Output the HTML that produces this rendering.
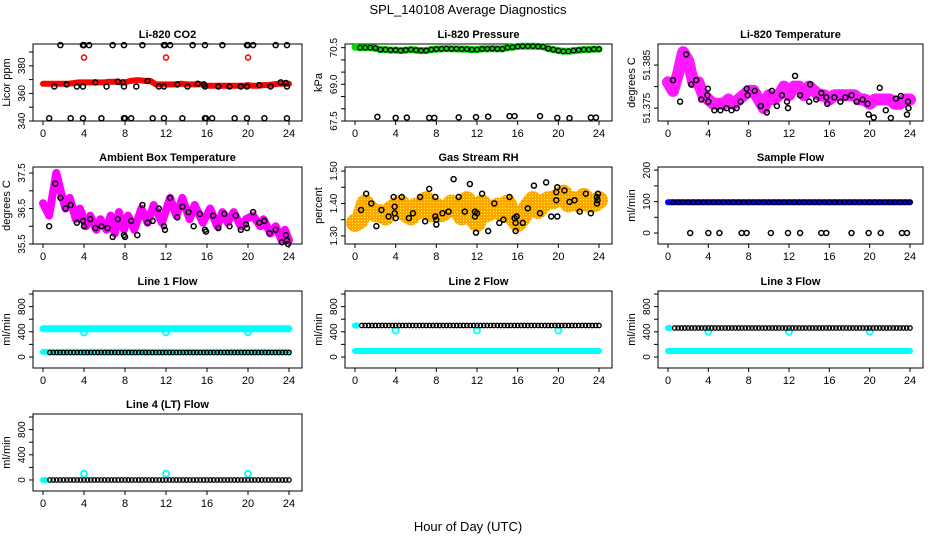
<!DOCTYPE html>
<html><head><meta charset="utf-8"><title>SPL_140108 Average Diagnostics</title>
<style>
html,body{margin:0;padding:0;background:#fff;}
svg{display:block;font-family:"Liberation Sans",sans-serif;}
</style></head>
<body>
<svg id="chart" width="936" height="540" viewBox="0 0 936 540" xmlns="http://www.w3.org/2000/svg">
<defs>
<pattern id="rhpat" width="3" height="3" patternUnits="userSpaceOnUse">
<rect width="3" height="3" fill="#ffa500"/><rect x="1" y="1" width="1" height="1" fill="#ffff00"/>
</pattern>
</defs>
<text x="468" y="14" text-anchor="middle" font-size="13">SPL_140108  Average Diagnostics</text>
<text x="468" y="531" text-anchor="middle" font-size="13">Hour of Day (UTC)</text>
</svg>
<script>
// ---------- data ----------
const xTicks = [0,4,8,12,16,20,24];

const co2Level = [367,367,367,367,367,367,367.5,368,368,368,368,368,368,368.5,368.5,368,368,369,369.5,369.5,369,369,366.5,366.5,366.5,366.5,366.5,367,366.5,366.5,366.5,366.5,365.5,365.5,365.5,365.5,365.5,365.5,365.5,365.5,366,365.5,365.5,366,366,366.5,367,367,367];
const co2RedOutHours = [4,12,20];
const co2RedOutVals = [386,386,386];
const co2BlackHours = [1.7,3.9,4.0,4.5,6.8,7.9,9.7,11.8,11.9,12.4,14.6,15.8,17.5,19.9,20.0,20.5,22.7,23.8,0.6,2.7,3.9,5.7,7.9,8.0,8.6,10.7,11.8,13.6,15.8,15.9,16.5,18.7,19.9,21.6,23.8,1.1,2.3,3.3,3.9,5.1,6.2,7.3,7.8,7.9,9.1,10.2,11.3,11.8,13.1,14.1,15.1,15.7,15.8,17.1,18.2,19.3,19.9,21.1,22.2,23.2,23.7,23.8];
const co2BlackVals = [395,395,395,395,395,395,395,395,395,395,395,395,395,395,395,395,395,395,342,342,342,342,342,342,342,342,342,342,342,342,342,342,342,342,342,365,366.5,365,365,368,365,368.5,368,365,365,369,365,365,366.5,365,367,366.5,365,365,365,365,365,366,365,368,367.5,365];

const presLevel = [70.52,70.5,70.5,70.5,70.48,70.42,70.42,70.4,70.4,70.38,70.4,70.42,70.4,70.38,70.38,70.42,70.44,70.45,70.46,70.45,70.45,70.44,70.44,70.42,70.42,70.45,70.45,70.46,70.45,70.45,70.5,70.52,70.55,70.56,70.56,70.56,70.55,70.54,70.46,70.42,70.38,70.35,70.35,70.38,70.4,70.42,70.42,70.44,70.44];
const presOutHours = [2.2,4,5.1,7.3,7.8,10.2,11.9,13.1,15.2,15.7,18.2,19.9,21.1,23.2,23.7];
const presOutVals = [67.67,67.63,67.64,67.63,67.63,67.65,67.66,67.68,67.7,67.7,67.7,67.63,67.62,67.64,67.64];

const tempLevel = [51.381,51.379,51.383,51.388,51.386,51.381,51.381,51.378,51.377,51.376,51.376,51.376,51.377,51.376,51.377,51.378,51.379,51.379,51.377,51.375,51.378,51.377,51.378,51.380,51.378,51.380,51.380,51.378,51.380,51.379,51.378,51.378,51.377,51.378,51.378,51.378,51.378,51.378,51.377,51.377,51.376,51.377,51.377,51.377,51.377,51.376,51.376,51.377,51.377];
const tempBlackHours = [0.5,1.2,1.8,2.3,2.8,3.3,3.9,3.95,4.0,4.6,5.2,5.8,6.3,6.8,7.2,7.8,7.9,8.6,9.2,9.8,10.3,10.8,11.3,11.8,11.9,12.6,13.1,14.0,14.1,14.7,15.2,15.7,15.8,16.5,17.1,17.6,18.2,18.7,19.3,19.8,19.9,20.4,21.0,21.6,22.1,22.6,23.1,23.8,23.85,23.7];
const tempBlackVals = [51.3815,51.3765,51.3875,51.3805,51.3815,51.377,51.378,51.3795,51.3765,51.3745,51.3745,51.375,51.3745,51.375,51.3765,51.3795,51.378,51.379,51.3755,51.374,51.379,51.3755,51.378,51.3765,51.375,51.3825,51.378,51.3765,51.3805,51.377,51.3785,51.3775,51.376,51.3775,51.3765,51.3775,51.378,51.3765,51.377,51.376,51.3735,51.3728,51.3797,51.3745,51.3727,51.3772,51.3778,51.3765,51.375,51.3735];

const ambHours = [0,0.6,1.3,1.8,2.2,2.6,3.2,3.6,4.2,4.6,5.2,5.6,6.2,6.6,7.0,7.4,7.9,8.3,8.9,9.6,10.2,10.8,11.6,12.4,13.0,13.6,14.3,14.8,15.6,16.3,17.0,17.5,18.0,18.6,19.3,19.8,20.5,21.2,21.5,22.2,22.7,23.3,23.6,24];
const ambVals = [36.65,36.3,37.5,36.9,36.5,36.8,36.2,36.5,36.0,36.3,35.9,36.2,35.9,36.3,35.8,36.4,35.9,36.3,35.9,36.5,36.1,36.6,36.1,36.8,36.3,36.8,36.2,36.6,36.1,36.5,36.0,36.4,36.1,36.4,36.0,36.2,36.3,36.0,36.2,35.8,36.0,35.6,35.9,35.6];
const ambBlackHours = [0.6,1.2,1.7,2.2,2.7,3.3,3.9,4.0,4.6,5.1,5.7,6.3,6.8,7.3,7.9,8.0,8.6,9.2,9.7,10.2,10.7,11.3,11.8,11.9,12.4,13.1,13.6,14.2,14.7,15.3,15.8,15.9,16.6,17.1,17.7,18.2,18.8,19.3,19.8,19.9,20.5,21.1,21.6,22.1,22.7,23.3,23.7,23.8,23.9];
const ambBlackVals = [36.0,37.2,36.8,36.5,36.6,36.1,36.15,36.0,36.2,35.95,36.0,35.95,35.7,36.2,35.75,35.7,36.15,35.75,36.6,36.1,36.15,36.5,36.0,35.9,36.8,36.25,36.55,36.4,36.0,36.35,35.9,35.85,36.3,35.95,36.35,36.0,36.3,35.9,36.05,35.95,36.4,36.1,36.15,35.8,35.9,35.55,35.75,35.6,35.5];

const rhLevel = [1.34,1.35,1.40,1.38,1.37,1.37,1.36,1.38,1.39,1.40,1.37,1.36,1.39,1.38,1.41,1.37,1.39,1.37,1.38,1.40,1.39,1.36,1.41,1.36,1.34,1.40,1.37,1.38,1.39,1.37,1.40,1.36,1.34,1.36,1.39,1.41,1.38,1.40,1.41,1.41,1.42,1.43,1.40,1.41,1.40,1.42,1.40,1.40,1.41];
const rhBlackHours = [0.6,1.1,1.6,2.1,2.6,3.3,3.8,3.9,3.9,4.0,4.6,5.3,5.7,6.4,6.9,7.3,7.9,7.9,8.0,8.0,8.6,9.2,9.7,10.2,10.8,11.3,11.8,11.8,11.9,12.0,12.5,13.1,13.7,14.2,14.6,15.2,15.7,15.8,15.8,15.9,16.5,17.0,17.6,18.2,18.8,19.3,19.8,19.8,19.9,19.9,20.6,21.1,21.6,22.1,22.7,23.2,23.8,23.8,23.9,23.85];
const rhBlackVals = [1.38,1.43,1.40,1.33,1.38,1.36,1.42,1.39,1.37,1.355,1.42,1.355,1.37,1.42,1.345,1.445,1.42,1.36,1.35,1.335,1.37,1.375,1.475,1.42,1.375,1.46,1.375,1.36,1.31,1.37,1.43,1.315,1.40,1.34,1.35,1.42,1.355,1.34,1.315,1.36,1.34,1.385,1.455,1.37,1.465,1.36,1.41,1.435,1.45,1.36,1.44,1.405,1.41,1.375,1.43,1.37,1.42,1.40,1.43,1.41];

const sampleLevel = 98;
const sampleZeroHours = [2.2,4,5.1,7.3,7.8,10.2,11.9,13.1,15.2,15.7,18.2,19.9,21.1,23.2,23.7];
const sampleZeroVals = [0,0,0,0,0,0,0,0,0,0,0,0,0,0,0];

// flows: [cyan high level, cyan low level, black level, cyan outlier value]
const flowCyanHigh = [450, 500, 460, 0];
const flowCyanLow = [80, 95, 95, 0];
const flowBlack = [70, 500, 460, 0];
const flowOutlier = [390, 420, 400, 100];
const flowOutHours = [4, 12, 20];

// ---------- layout ----------
const NS = 'http://www.w3.org/2000/svg';
const svg = document.getElementById('chart');
const colL = [33, 345, 658], colW = [269, 267, 265];
const rowT = [44, 167, 291, 414], PH = 77;

function mk(tag, attrs, parent) {
  const e = document.createElementNS(NS, tag);
  for (const k in attrs) e.setAttribute(k, attrs[k]);
  (parent || svg).appendChild(e);
  return e;
}

const panels = [
  {r:0,c:0,title:'Li-820 CO2',yt:'Licor ppm',ylim:[340,395.8],ticks:[340,350,360,370,380,390],labs:['340','','360','','380','']},
  {r:0,c:1,title:'Li-820 Pressure',yt:'kPa',ylim:[67.5,70.65],ticks:[67.5,68,68.5,69,69.5,70,70.5],labs:['67.5','','','69.0','','','70.5']},
  {r:0,c:2,title:'Li-820 Temperature',yt:'degrees C',ylim:[51.372,51.3899],ticks:[51.375,51.38,51.385],labs:['51.375','','51.385']},
  {r:1,c:0,title:'Ambient Box Temperature',yt:'degrees C',ylim:[35.5,37.67],ticks:[35.5,36,36.5,37,37.5],labs:['35.5','','36.5','','37.5']},
  {r:1,c:1,title:'Gas Stream RH',yt:'percent',ylim:[1.275,1.5125],ticks:[1.3,1.35,1.4,1.45,1.5],labs:['1.30','','1.40','','1.50']},
  {r:1,c:2,title:'Sample Flow',yt:'ml/min',ylim:[-35,210],ticks:[0,50,100,150,200],labs:['0','','100','','200']},
  {r:2,c:0,title:'Line 1 Flow',yt:'ml/min',ylim:[-175,1048],ticks:[0,200,400,600,800,1000],labs:['0','','400','','800','']},
  {r:2,c:1,title:'Line 2 Flow',yt:'ml/min',ylim:[-175,1048],ticks:[0,200,400,600,800,1000],labs:['0','','400','','800','']},
  {r:2,c:2,title:'Line 3 Flow',yt:'ml/min',ylim:[-175,1048],ticks:[0,200,400,600,800,1000],labs:['0','','400','','800','']},
  {r:3,c:0,title:'Line 4 (LT) Flow',yt:'ml/min',ylim:[-175,1048],ticks:[0,200,400,600,800,1000],labs:['0','','400','','800','']}
];

function slug(s){return s.toLowerCase().replace(/[^a-z0-9]+/g,'-').replace(/-+$/,'');}

panels.forEach(p => {
  const L = colL[p.c], W = colW[p.c], T = rowT[p.r];
  p.L = L; p.W = W; p.T = T;
  p.x = h => L + 10 + h / 24 * (W - 23);
  p.y = v => T + PH - (v - p.ylim[0]) / (p.ylim[1] - p.ylim[0]) * PH;
  const g = mk('g', {});
  
  
  p.g = g;
  const box = mk('rect', {x:L, y:T, width:W, height:PH, fill:'none', stroke:'#000', 'stroke-width':1}, g);
  
  
  const t = mk('text', {x:L + W/2, y:T - 6, 'text-anchor':'middle', 'font-size':11, 'font-weight':'bold'}, g);
  t.textContent = p.title;
  
  
  const yt = mk('text', {transform:`translate(${L-23},${T+PH/2}) rotate(-90)`, 'text-anchor':'middle', 'font-size':11}, g);
  yt.textContent = p.yt;
  
  
  xTicks.forEach(h => {
    const tk = mk('line', {x1:p.x(h), x2:p.x(h), y1:T+PH, y2:T+PH+4, stroke:'#000'}, g);
    
    
    const tl = mk('text', {x:p.x(h), y:T+PH+16, 'text-anchor':'middle', 'font-size':11}, g);
    tl.textContent = h;
    
    
  });
  p.ticks.forEach((v, i) => {
    const tk = mk('line', {x1:L-4, x2:L, y1:p.y(v), y2:p.y(v), stroke:'#000'}, g);
    
    
    if (p.labs[i]) {
      const tl = mk('text', {transform:`translate(${L-8},${p.y(v)}) rotate(-90)`, 'text-anchor':'middle', 'font-size':10}, g);
      tl.textContent = p.labs[i];
      
      
    }
  });
});

function pt(p, h, v, color, r, sw, name) {
  const c = mk('circle', {cx:p.x(h), cy:p.y(v), r:r, fill:'none', stroke:color, 'stroke-width':sw}, p.g);
  
  
}
function band(p, hours, vals, color, sw, name, op) {
  const pts = hours.map((h, i) => p.x(h).toFixed(1) + ',' + p.y(vals[i]).toFixed(1)).join(' ');
  const pl = mk('polyline', {points:pts, fill:'none', stroke:color, 'stroke-width':sw, 'stroke-linejoin':'round', 'stroke-linecap':'round', opacity:op||1}, p.g);
  
  
}
const grid49 = co2Level.map((_, i) => i * 0.5);

// CO2
band(panels[0], grid49, co2Level, '#ff0000', 6, 'co2-series');
co2RedOutHours.forEach((h, i) => pt(panels[0], h, co2RedOutVals[i], '#ff0000', 2.5, 1.5, 'co2-outlier'));
co2BlackHours.forEach((h, i) => pt(panels[0], h, co2BlackVals[i], '#000', 2.5, 1.5, 'co2-average-point'));

// Pressure
band(panels[1], grid49, presLevel, '#00dd00', 7, 'pressure-series');
grid49.forEach((h, i) => { if (i > 0) pt(panels[1], h, presLevel[i], '#000', 2.3, 1.3, 'pressure-average-point'); });
presOutHours.forEach((h, i) => pt(panels[1], h, presOutVals[i], '#000', 2.5, 1.5, 'pressure-outlier'));

// Li-820 temperature
band(panels[2], grid49, tempLevel, '#ff00ff', 12, 'temperature-series', 0.9);
tempBlackHours.forEach((h, i) => pt(panels[2], h, tempBlackVals[i], '#000', 2.5, 1.5, 'temperature-average-point'));

// Ambient
band(panels[3], ambHours, ambVals, '#ff00ff', 8, 'ambient-series');
ambBlackHours.forEach((h, i) => pt(panels[3], h, ambBlackVals[i], '#000', 2.5, 1.5, 'ambient-average-point'));

// RH
band(panels[4], grid49, rhLevel, 'url(#rhpat)', 18, 'rh-series');
rhBlackHours.forEach((h, i) => pt(panels[4], h, rhBlackVals[i], '#000', 2.5, 1.5, 'rh-average-point'));

// Sample flow
band(panels[5], [0, 24], [sampleLevel, sampleLevel], '#0000ff', 6, 'sample-flow-series');
grid49.forEach((h, i) => { if (i > 0) pt(panels[5], h, sampleLevel, '#000', 2.3, 1.3, 'sample-flow-average-point'); });
sampleZeroHours.forEach((h, i) => pt(panels[5], h, sampleZeroVals[i], '#000', 2.5, 1.5, 'sample-flow-zero-point'));

// Line flows
[6, 7, 8, 9].forEach((pi, k) => {
  const p = panels[pi];
  if (k === 3) {
    band(p, [0, 0.3], [flowCyanHigh[k], flowCyanHigh[k]], '#00ffff', 6, 'line-flow-cyan-series');
  } else if (k === 0) {
    band(p, [0, 24], [flowCyanHigh[k], flowCyanHigh[k]], '#00ffff', 7, 'line-flow-cyan-high-series');
    band(p, [0, 24], [flowCyanLow[k], flowCyanLow[k]], '#00ffff', 6, 'line-flow-cyan-low-series');
  } else {
    band(p, [0, 0.2], [flowCyanHigh[k], flowCyanHigh[k]], '#00ffff', 6, 'line-flow-cyan-high-series');
    band(p, [0, 24], [flowCyanLow[k], flowCyanLow[k]], '#00ffff', 6, 'line-flow-cyan-low-series');
  }
  flowOutHours.forEach(h => pt(p, h, flowOutlier[k], '#00ffff', 3, 1.8, 'line-flow-outlier'));
  for (let i = 2; i <= 72; i++) pt(p, i / 3, flowBlack[k], '#000', 2.2, 1.3, 'line-flow-average-point');
});
</script>
</body></html>
